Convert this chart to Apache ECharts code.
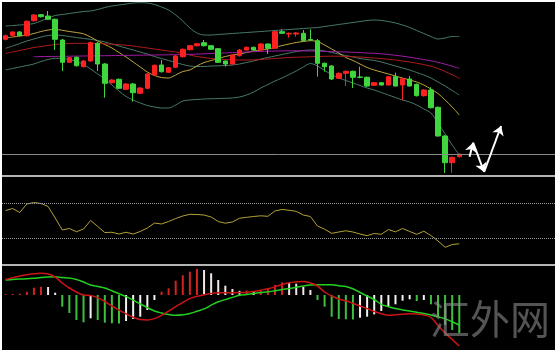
<!DOCTYPE html>
<html>
<head>
<meta charset="utf-8">
<script src="https://cdn.jsdelivr.net/npm/echarts/dist/echarts.min.js"></script>
<style>
html, body { margin: 0; padding: 0; background: #fff; }
#main { position: absolute; left: 2px; top: 2px; width: 553px; height: 348px; background: #000; }
</style>
</head>
<body>
<div id="main"></div>
<script>
// bar slots (65 candles + empty room on the right)
const categories = Array.from({ length: 78 }, (_, i) => "bar" + (i + 1));

// [open, close, low, high]
const candles = [
  [140.7,144.3,139.5,145.5],[144.7,148,143.5,149],[148,144.3,143.5,149],[144.3,158.7,143.5,159.5],
  [159.3,165,158.5,166],[165.3,163.3,162.5,166],[164,160.7,160,169],[160.7,140.7,130,161.5],
  [140,117.7,109,141],[117.7,122.3,117,123],[122.7,114.3,113.5,123.5],[113.3,119,112.5,120],
  [119,137.3,118.5,138.5],[136.7,116,109,138],[116,96.7,82.3,117],[97.3,100,96.5,101],
  [100.7,91.7,91,101.5],[90.7,96,90,97],[96,87.3,78.3,97],[86.7,92,86,93],
  [91.7,106,91,107],[105,114.7,104.5,115.5],[115,108.3,107.5,120],[107.7,112.3,107,113],
  [112.7,124,112,125],[123.3,130.7,122.5,131.5],[130.3,134.3,129.5,135],[134.3,136.3,133.5,137],
  [137.3,134.3,133.5,140],[134.3,130.7,130,135],[131.3,117.7,117,132],[119,116,113.3,119.5],
  [116,125,115.5,125.5],[124.3,130,123.5,131],[130,132.7,129.5,133.5],[132.7,130,129.5,133.5],
  [130,136,129.5,137],[136,131.7,126,136.5],[131.7,148.3,131,149],[148.3,146.7,146,150.7],
  [146,146.7,142.3,147.5],[146,147,143.3,148],[146.7,139.3,138.5,150],[140.5,140,139,150.7],
  [139.3,116.7,103.3,141],[116.7,113.3,108.3,117.5],[114,101,100,115],[101.7,106.7,101,107.5],
  [106.7,108.7,94,109.5],[108.7,102.7,92,109.5],[103,102.7,101.7,113.3],[102.7,94,93,103.5],
  [94.7,97.3,94,98],[97.3,95,94.3,98],[95,103.3,94.5,104],[103.3,94,93.5,107.3],
  [95,101.3,80,102],[101,94,93.5,104],[95.7,84.3,83.5,96.5],[84.3,90,83.5,91],
  [90,72.3,71.5,92.7],[72.7,44,43.3,73.5],[44,17.3,7,44.7],[17.3,22.7,7.3,23.5],
  [23.3,25.7,22.5,26.5]
];

const bollUpper = [154,154.5,155,155.5,156.5,159,162,164.5,165.5,166.5,167.5,168.5,169,170.5,172.5,174,175,176,177,177.3,177,175.5,173,170,165,159,152,147,145,145,145.5,146,146.5,147,147.5,148,148.5,149,149.5,150,150.5,151,151.5,152,152.5,153.5,154.5,155.5,156.5,157.5,158.5,159.5,160,159.5,158.5,157,155,152.5,149.5,146.5,143.5,141,142,143.5,143.5];
const bollMid = [131.7,134,136.5,139,141,143,144.5,145,144.5,143.5,142.5,141.5,140.7,139.5,138,136,134,132,130,128,126,123.5,121.5,119.5,117.5,115.5,114,113.5,113.5,114,114.2,114.5,115,116,117.5,119,121,122.5,124,125.5,127,128.5,129.5,130,130,129,127.5,126,124.5,123,121.5,120.5,119.5,118,116,114,112,110,107.5,105,102,98,94,89.5,85];
const bollLower = [110,111.5,113,114.5,116,118.5,120.5,121.7,121.5,120.5,118.5,115.5,111,106,101,95,89,83.5,80,77,74.5,73,72,72,75,79,80,80.5,81,81.2,81.5,81.7,82,83,85,88,92,95.5,99,102,105.5,109,113,116.5,114,109.5,105.5,102,99.5,97,94.5,92,90,87.5,85,82.5,80,78,75,71,67,57,46,35,25];
const maFast = [142,143,144,145,146.5,148.5,150,150.7,149.7,148.5,147.5,146.2,143,139,135.5,132,127.5,123,118,113,108,104.5,102.5,102,105,108.5,110,114,117.5,119.5,121.5,123.5,125,126,127.5,129,130,131,132.5,134.5,136,137.5,138.5,139.3,138.5,135,131,127,122.5,119.5,116,112.5,110,108,106,104,102,100,98,95,91,86.5,80,73,65];
const maSlow = [126.7,128,129.5,131,132.5,133.5,134.5,135.5,136.2,136.5,136.7,136.7,136.6,136.4,136.2,135.8,135.4,134.8,134,133,132,131,130,129,128,126.5,125,123.5,122.5,121.5,121,120.5,120.2,120,120,120.2,120.5,121,121.5,122,122.5,122.8,123,123.2,123.5,123.7,123.8,123.8,123.6,123.3,123,122.5,122,121.4,120.7,120,119,118,116.8,115.4,113.8,111.5,108.5,105.2,101.7];
const maLong = ["-","-","-","-",123.3,123.4,123.5,123.6,123.7,123.8,123.9,124,124.1,124.2,124.3,124.4,124.5,124.6,124.7,124.8,124.9,125,125.1,125.2,125.3,125.4,125.6,125.9,126.2,126.5,126.8,127.1,127.4,127.7,128,128.3,128.6,128.8,129,129.1,129.2,129.2,129.1,129,128.8,128.6,128.4,128.2,128,127.7,127.4,127,126.7,126.2,125.5,124.7,123.8,122.8,121.6,120.4,119.2,117.7,115.8,113.8,111.7];

const rsi = [61.9,64.2,59.7,69.3,71.0,69.9,66.5,53.4,39.8,41.5,37.8,40.9,50.6,43.8,36.9,37.2,35.2,37.2,35.2,38.1,42.0,47.7,46.6,49.4,52.8,55.7,57.6,57.4,56.8,54.5,49.4,47.5,48.9,53.1,54.2,55.1,55.9,55.3,61.4,63.1,62.2,61.0,56.8,55.1,44.3,40.7,36.0,37.5,38.9,37.5,35.2,33.3,35.8,34.9,40.3,37.7,41.5,38.1,34.9,38.4,33.5,27.3,20.1,23.3,24.1];
const rsiLevels = [70, 30];

const macdHist = [0.8,1,1.3,3.3,7.3,8.3,8,2.3,-11.7,-18,-25,-27.3,-23.3,-25,-27.7,-28.3,-28.5,-26,-24,-21.7,-15,-5,3.3,6.7,14.3,19.7,23.3,26,25,21.7,15,9.3,6,4.2,4.4,4,5,6.7,10,12.7,12.5,11.3,8,5,-5,-11.7,-21.7,-24,-24.3,-24.5,-22.7,-21.7,-19.3,-16,-11.7,-9.3,-5.7,-4.3,-6,-5,-9.3,-21.7,-30,-35,-38];
const macdLine = [15.5,17.2,19,20.2,21.2,21.7,21,18,12,7,3,0,-0.5,-2.6,-6.5,-11,-15,-18.8,-22.2,-24.6,-25,-23.6,-20.3,-16.2,-11.6,-7.5,-3.6,-1.4,0.2,1.5,2.2,2.3,2.3,2.4,2.7,3.6,4.8,6.2,8.2,10.5,12.2,13.1,13.6,12,9,3,-1,-4,-5.8,-8.3,-11,-13.6,-16.5,-18.8,-20.2,-19.8,-19.3,-18.8,-19.1,-20,-22.5,-30.5,-38,-44.5,-51];
const signalLine = [15,15.5,16,16.2,16.7,17.5,18,18.2,17.5,17,15.5,13,10,8.5,7,4.2,1.2,-1.6,-5.2,-9,-12.6,-16,-18,-19.5,-20.3,-19.8,-18.6,-16.3,-13.9,-10.2,-6.8,-4.6,-2.4,-0.3,0.6,1.5,2.4,3.2,4.3,5.4,6.5,7.7,9,10,10.3,10.3,10.3,9.3,8.5,6.2,2.5,-1,-4.5,-9.3,-11.7,-13.6,-14.9,-16,-17.2,-18.6,-20,-21.8,-23.8,-26.8,-30];

// hand-drawn forecast zigzag: [bar position, price]
const forecastPath = [[65.45, 23.3], [65.95, 37.3], [67.5, 8], [69.9, 54]];

const myChart = echarts.init(document.getElementById("main"));

// histogram colour: red rising / green falling, white when shrinking
let histData = macdHist.map(function (v, i) {
  let prev = i > 0 ? macdHist[i - 1] : 0;
  let color;
  if (v >= 0) color = v >= prev ? "#d42222" : "#f2e6e6";
  else color = v <= prev ? "#3fbf3f" : "#f2f2f2";
  return { value: v, itemStyle: { color: color } };
});

let forecastSegments = [];
for (let i = 1; i < forecastPath.length; i++) {
  forecastSegments.push({ coords: [forecastPath[i - 1], forecastPath[i]] });
}

function priceLine(name, data, color) {
  return {
    name: name,
    type: "line",
    xAxisIndex: 0,
    yAxisIndex: 0,
    data: data,
    smooth: 0.3,
    symbol: "none",
    z: 2,
    lineStyle: { color: color, width: 1 },
  };
}

const hiddenCat = {
  type: "category",
  data: categories,
  axisTick: { show: false },
  axisLabel: { show: false },
  splitLine: { show: false },
};

let option = {
  animation: false,
  backgroundColor: "#000",
  grid: [
    { left: 0, right: 0, top: 0, height: 174 },
    { left: 0, right: 0, top: 175, height: 88 },
    { left: 0, right: 0, top: 265, height: 83 },
  ],
  xAxis: [
    Object.assign({}, hiddenCat, { gridIndex: 0, axisLine: { onZero: false, lineStyle: { color: "#b4b4b4", width: 2 } } }),
    Object.assign({}, hiddenCat, { gridIndex: 1, axisLine: { onZero: false, lineStyle: { color: "#b4b4b4", width: 2 } } }),
    Object.assign({}, hiddenCat, { gridIndex: 2, axisLine: { show: false } }),
    { type: "value", gridIndex: 0, min: -0.5, max: categories.length - 0.5, show: false },
  ],
  yAxis: [
    { type: "value", gridIndex: 0, min: 4, max: 178, show: false },
    { type: "value", gridIndex: 1, min: 0, max: 100, show: false },
    { type: "value", gridIndex: 2, min: -55, max: 28, show: false },
  ],
  series: [
    priceLine("Boll upper", bollUpper, "#467a69"),
    priceLine("Boll mid", bollMid, "#467a69"),
    priceLine("Boll lower", bollLower, "#467a69"),
    priceLine("MA fast", maFast, "#bda63a"),
    priceLine("MA slow", maSlow, "#b01c1c"),
    priceLine("MA long", maLong, "#a01ca6"),
    {
      name: "price",
      type: "candlestick",
      xAxisIndex: 0,
      yAxisIndex: 0,
      barWidth: 5,
      z: 3,
      data: candles,
      itemStyle: {
        color: "#ff2020",
        color0: "#3ed83e",
        borderColor: "#ff2020",
        borderColor0: "#3ed83e",
        borderWidth: 1,
      },
      markLine: {
        silent: true,
        symbol: "none",
        label: { show: false },
        lineStyle: { color: "#8a8a8a", width: 1, type: "solid" },
        data: [{ yAxis: candles[candles.length - 1][1] }],
      },
    },
    {
      name: "forecast",
      type: "lines",
      coordinateSystem: "cartesian2d",
      xAxisIndex: 3,
      yAxisIndex: 0,
      z: 5,
      symbol: ["none", "arrow"],
      symbolSize: 9,
      lineStyle: { color: "#ffffff", width: 2, opacity: 1, curveness: 0 },
      data: forecastSegments,
    },
    {
      name: "RSI",
      type: "line",
      xAxisIndex: 1,
      yAxisIndex: 1,
      data: rsi,
      symbol: "none",
      lineStyle: { color: "#b3a236", width: 1 },
      markLine: {
        silent: true,
        symbol: "none",
        label: { show: false },
        lineStyle: { color: "#9a9a9a", width: 1, type: "dotted" },
        data: rsiLevels.map(function (v) { return { yAxis: v }; }),
      },
    },
    {
      name: "MACD hist",
      type: "bar",
      xAxisIndex: 2,
      yAxisIndex: 2,
      barWidth: 2,
      data: histData,
    },
    {
      name: "signal",
      type: "line",
      xAxisIndex: 2,
      yAxisIndex: 2,
      data: signalLine,
      smooth: 0.4,
      symbol: "none",
      lineStyle: { color: "#22d022", width: 1.5 },
    },
    {
      name: "MACD",
      type: "line",
      xAxisIndex: 2,
      yAxisIndex: 2,
      data: macdLine,
      smooth: 0.4,
      symbol: "none",
      lineStyle: { color: "#cc1414", width: 1.5 },
    },
  ],
  graphic: [
    {
      type: "text",
      left: 428,
      top: 297,
      z: 100,
      style: {
        text: "汇外网",
        font: '40px "Noto Sans CJK SC"',
        fill: "rgba(140,140,140,0.6)",
      },
    },
  ],
};
myChart.setOption(option);
</script>
</body>
</html>
